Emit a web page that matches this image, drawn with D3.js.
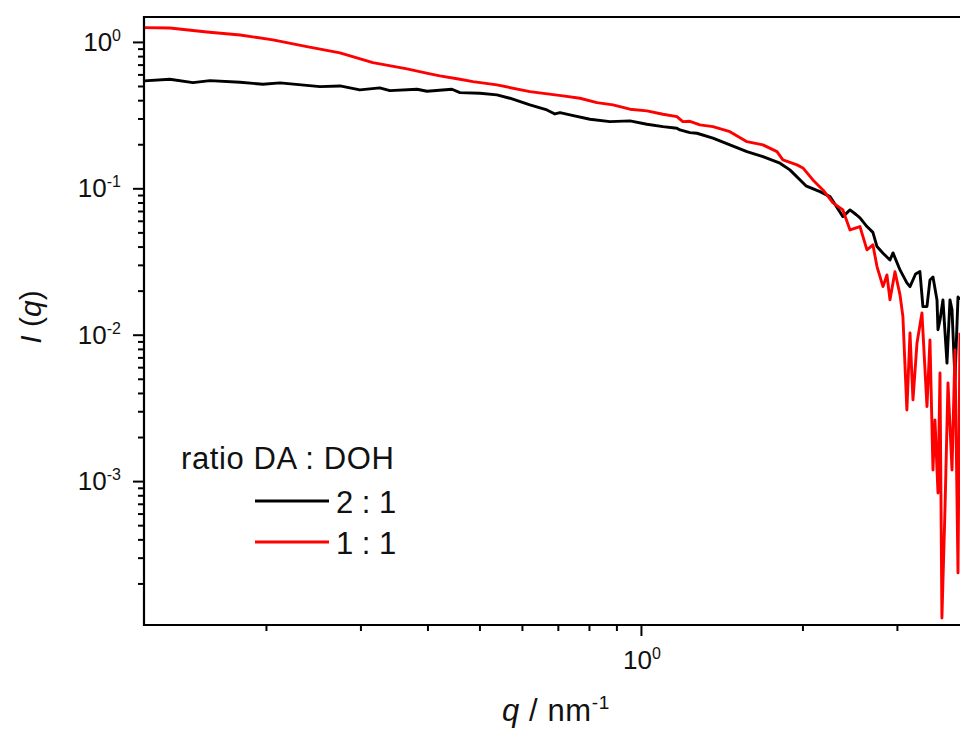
<!DOCTYPE html>
<html>
<head>
<meta charset="utf-8">
<script src="https://cdn.jsdelivr.net/npm/d3@7"></script>
<style>
  html, body { margin: 0; padding: 0; background: #fff; }
  svg { display: block; font-family: "Liberation Sans", Arial, sans-serif; }
</style>
</head>
<body>
<svg id="chart" width="960" height="729"></svg>
<script>
// ---- data ----
const seriesNames = ["2 : 1", "1 : 1"];
const legendTitle = "ratio DA : DOH";

const qBlack = [0.118, 0.1324, 0.1462, 0.1573, 0.179, 0.1974, 0.2124, 0.2522, 0.2748, 0.2993,
  0.326, 0.3404, 0.3825, 0.3993, 0.4443, 0.4598, 0.5011, 0.5389, 0.5697, 0.6209,
  0.6679, 0.6913, 0.7066, 0.7373, 0.8035, 0.8754, 0.9539, 1.026, 1.099, 1.167,
  1.182, 1.234, 1.272, 1.362, 1.465, 1.576, 1.688, 1.816, 1.895, 2.03,
  2.156, 2.251, 2.379, 2.453, 2.52, 2.56, 2.638, 2.706, 2.754, 2.826,
  2.912, 2.95, 3.04, 3.131, 3.173, 3.25, 3.311, 3.354, 3.413, 3.457,
  3.502, 3.563, 3.578, 3.609, 3.655, 3.719, 3.767, 3.8, 3.849, 3.899, 3.932];
const iBlack = [0.5417, 0.556, 0.5272, 0.5443, 0.5306, 0.514, 0.5248, 0.495, 0.5005, 0.47,
  0.485, 0.4649, 0.4752, 0.4606, 0.4752, 0.4505, 0.4463, 0.4345, 0.4124, 0.3713,
  0.3431, 0.3222, 0.329, 0.3173, 0.2965, 0.2856, 0.2887, 0.2741, 0.2639, 0.2573,
  0.2505, 0.24, 0.2378, 0.2199, 0.1979, 0.1781, 0.1646, 0.1484, 0.1336, 0.104,
  0.0949, 0.0878, 0.0641, 0.0712, 0.066, 0.0628, 0.0548, 0.05, 0.04, 0.036,
  0.0324, 0.0362, 0.0277, 0.0226, 0.0213, 0.026, 0.027, 0.01556, 0.0156, 0.02367,
  0.0248, 0.01729, 0.0108, 0.01262, 0.01729, 0.0064, 0.0173, 0.0148, 0.0049, 0.0181, 0.0173];

const qRed = [0.118, 0.1324, 0.1552, 0.179, 0.2061, 0.2384, 0.2748, 0.3165, 0.3664, 0.4044,
  0.422, 0.4598, 0.4862, 0.5389, 0.6209, 0.7155, 0.7697, 0.8279, 0.8867, 0.9539,
  1.026, 1.099, 1.167, 1.197, 1.234, 1.288, 1.362, 1.465, 1.576, 1.688,
  1.793, 1.839, 1.954, 2.004, 2.092, 2.184, 2.28, 2.379, 2.453, 2.56,
  2.638, 2.706, 2.754, 2.826, 2.874, 2.912, 2.975, 3.04, 3.078, 3.131,
  3.173, 3.214, 3.27, 3.34, 3.413, 3.457, 3.502, 3.532, 3.578, 3.609,
  3.639, 3.687, 3.735, 3.8, 3.849, 3.899, 3.932];
const iRed = [1.252, 1.245, 1.17, 1.116, 1.032, 0.929, 0.841, 0.722, 0.654, 0.6045,
  0.586, 0.556, 0.5357, 0.5085, 0.4575, 0.4277, 0.4124, 0.3849, 0.3713, 0.347,
  0.3378, 0.3207, 0.3088, 0.2856, 0.287, 0.2711, 0.2639, 0.2439, 0.2084, 0.1979,
  0.1781, 0.1563, 0.1445, 0.1378, 0.1141, 0.0975, 0.0795, 0.0712, 0.052, 0.0548,
  0.038, 0.0411, 0.0292, 0.0213, 0.0256, 0.0173, 0.0269, 0.0187, 0.0133, 0.00306,
  0.0103, 0.00359, 0.00879, 0.0141, 0.00323, 0.00922, 0.00119, 0.00262, 0.00083, 0.00548,
  0.000116, 0.000636, 0.00469, 0.00119, 0.00787, 0.000236, 0.0103];

const xMajorTicks = [1];
const xMajorExp = ["0"];
const yMajorTicks = [1, 0.1, 0.01, 0.001];
const yMajorExp = ["0", "-1", "-2", "-3"];
const xDomain = [0.1185, 4.6];
const yDomain = [1.04e-4, 1.48];

// ---- layout ----
const mLeft = 144, mTop = 17, mBottom = 625;
const decadeX = 536.5;
const mRight = mLeft + decadeX * Math.log10(xDomain[1] / xDomain[0]);

const svg = d3.select("#chart");
const x = d3.scaleLog().domain(xDomain).range([mLeft, mRight]);
const y = d3.scaleLog().domain(yDomain).range([mBottom, mTop]);

svg.append("defs").append("clipPath").attr("id", "clip")
  .append("rect").attr("x", mLeft).attr("y", mTop).attr("width", mRight - mLeft).attr("height", mBottom - mTop);

// data lines
const line = d3.line().x(d => x(d[0])).y(d => y(d[1]));
const blackData = qBlack.map((q, i) => [q, iBlack[i]]);
const redData = qRed.map((q, i) => [q, iRed[i]]);
const g = svg.append("g").attr("clip-path", "url(#clip)");
g.append("path").datum(blackData).attr("d", line)
  .attr("fill", "none").attr("stroke", "#000").attr("stroke-width", 2.9).attr("stroke-linejoin", "round");
g.append("path").datum(redData).attr("d", line)
  .attr("fill", "none").attr("stroke", "#ff0000").attr("stroke-width", 2.9).attr("stroke-linejoin", "round");

// axes
const yMinor = y.ticks().filter(v => !yMajorTicks.some(m => Math.abs(m - v) / m < 1e-6));
const xMinor = x.ticks().filter(v => !xMajorTicks.some(m => Math.abs(m - v) / m < 1e-6));

function styleAxis(sel) {
  sel.select(".domain").remove();
  sel.selectAll(".tick line").attr("stroke", "#000").attr("stroke-width", 2);
  sel.selectAll(".tick text").remove();
}
svg.append("g").attr("transform", `translate(${mLeft},0)`)
  .call(d3.axisLeft(y).tickValues(yMinor).tickSize(6).tickFormat("")).call(styleAxis);
svg.append("g").attr("transform", `translate(${mLeft},0)`)
  .call(d3.axisLeft(y).tickValues(yMajorTicks).tickSize(11).tickFormat("")).call(styleAxis);
svg.append("g").attr("transform", `translate(0,${mBottom})`)
  .call(d3.axisBottom(x).tickValues(xMinor).tickSize(6).tickFormat("")).call(styleAxis);
svg.append("g").attr("transform", `translate(0,${mBottom})`)
  .call(d3.axisBottom(x).tickValues(xMajorTicks).tickSize(11).tickFormat("")).call(styleAxis);

// frame lines
svg.append("line").attr("x1", mLeft).attr("x2", mLeft).attr("y1", mTop - 1).attr("y2", mBottom + 1)
  .attr("stroke", "#000").attr("stroke-width", 2.2);
svg.append("line").attr("x1", mLeft - 1).attr("x2", mRight).attr("y1", mBottom).attr("y2", mBottom)
  .attr("stroke", "#000").attr("stroke-width", 2.2);
svg.append("line").attr("x1", mLeft - 1).attr("x2", mRight).attr("y1", mTop).attr("y2", mTop)
  .attr("stroke", "#000").attr("stroke-width", 2.2);

// tick labels
yMajorTicks.forEach((v, i) => {
  const t = svg.append("text").attr("x", 121).attr("y", y(v) + 9)
    .attr("text-anchor", "end").attr("font-size", 26).attr("fill", "#111");
  t.append("tspan").text("10");
  t.append("tspan").attr("dy", -10).attr("font-size", 16).text(yMajorExp[i]);
});
xMajorTicks.forEach((v, i) => {
  const t = svg.append("text").attr("x", x(v) + 1).attr("y", 669)
    .attr("text-anchor", "middle").attr("font-size", 26).attr("fill", "#111");
  t.append("tspan").text("10");
  t.append("tspan").attr("dy", -10).attr("font-size", 16).text(xMajorExp[i]);
});

// axis titles
const xt = svg.append("text").attr("x", 502).attr("y", 721).attr("font-size", 31)
  .attr("letter-spacing", 0.6).attr("fill", "#111");
xt.append("tspan").attr("font-style", "italic").text("q");
xt.append("tspan").text(" / nm");
xt.append("tspan").attr("dy", -12).attr("font-size", 19).text("-1");

const yt = svg.append("text").attr("transform", "translate(41,317) rotate(-90)")
  .attr("text-anchor", "middle").attr("font-size", 30).attr("fill", "#111");
yt.append("tspan").attr("font-style", "italic").text("I");
yt.append("tspan").text(" (");
yt.append("tspan").attr("font-style", "italic").text("q");
yt.append("tspan").text(")");

// legend
svg.append("text").attr("x", 181).attr("y", 469).attr("font-size", 31)
  .attr("letter-spacing", 0.6).attr("fill", "#111").text(legendTitle);
const legColors = ["#000", "#ff0000"];
seriesNames.forEach((name, i) => {
  const ly = 501 + i * 41;
  svg.append("line").attr("x1", 255).attr("x2", 329).attr("y1", ly).attr("y2", ly)
    .attr("stroke", legColors[i]).attr("stroke-width", 2.9);
  svg.append("text").attr("x", 336).attr("y", ly + 12).attr("font-size", 31).attr("fill", "#111").text(name);
});
</script>
</body>
</html>
